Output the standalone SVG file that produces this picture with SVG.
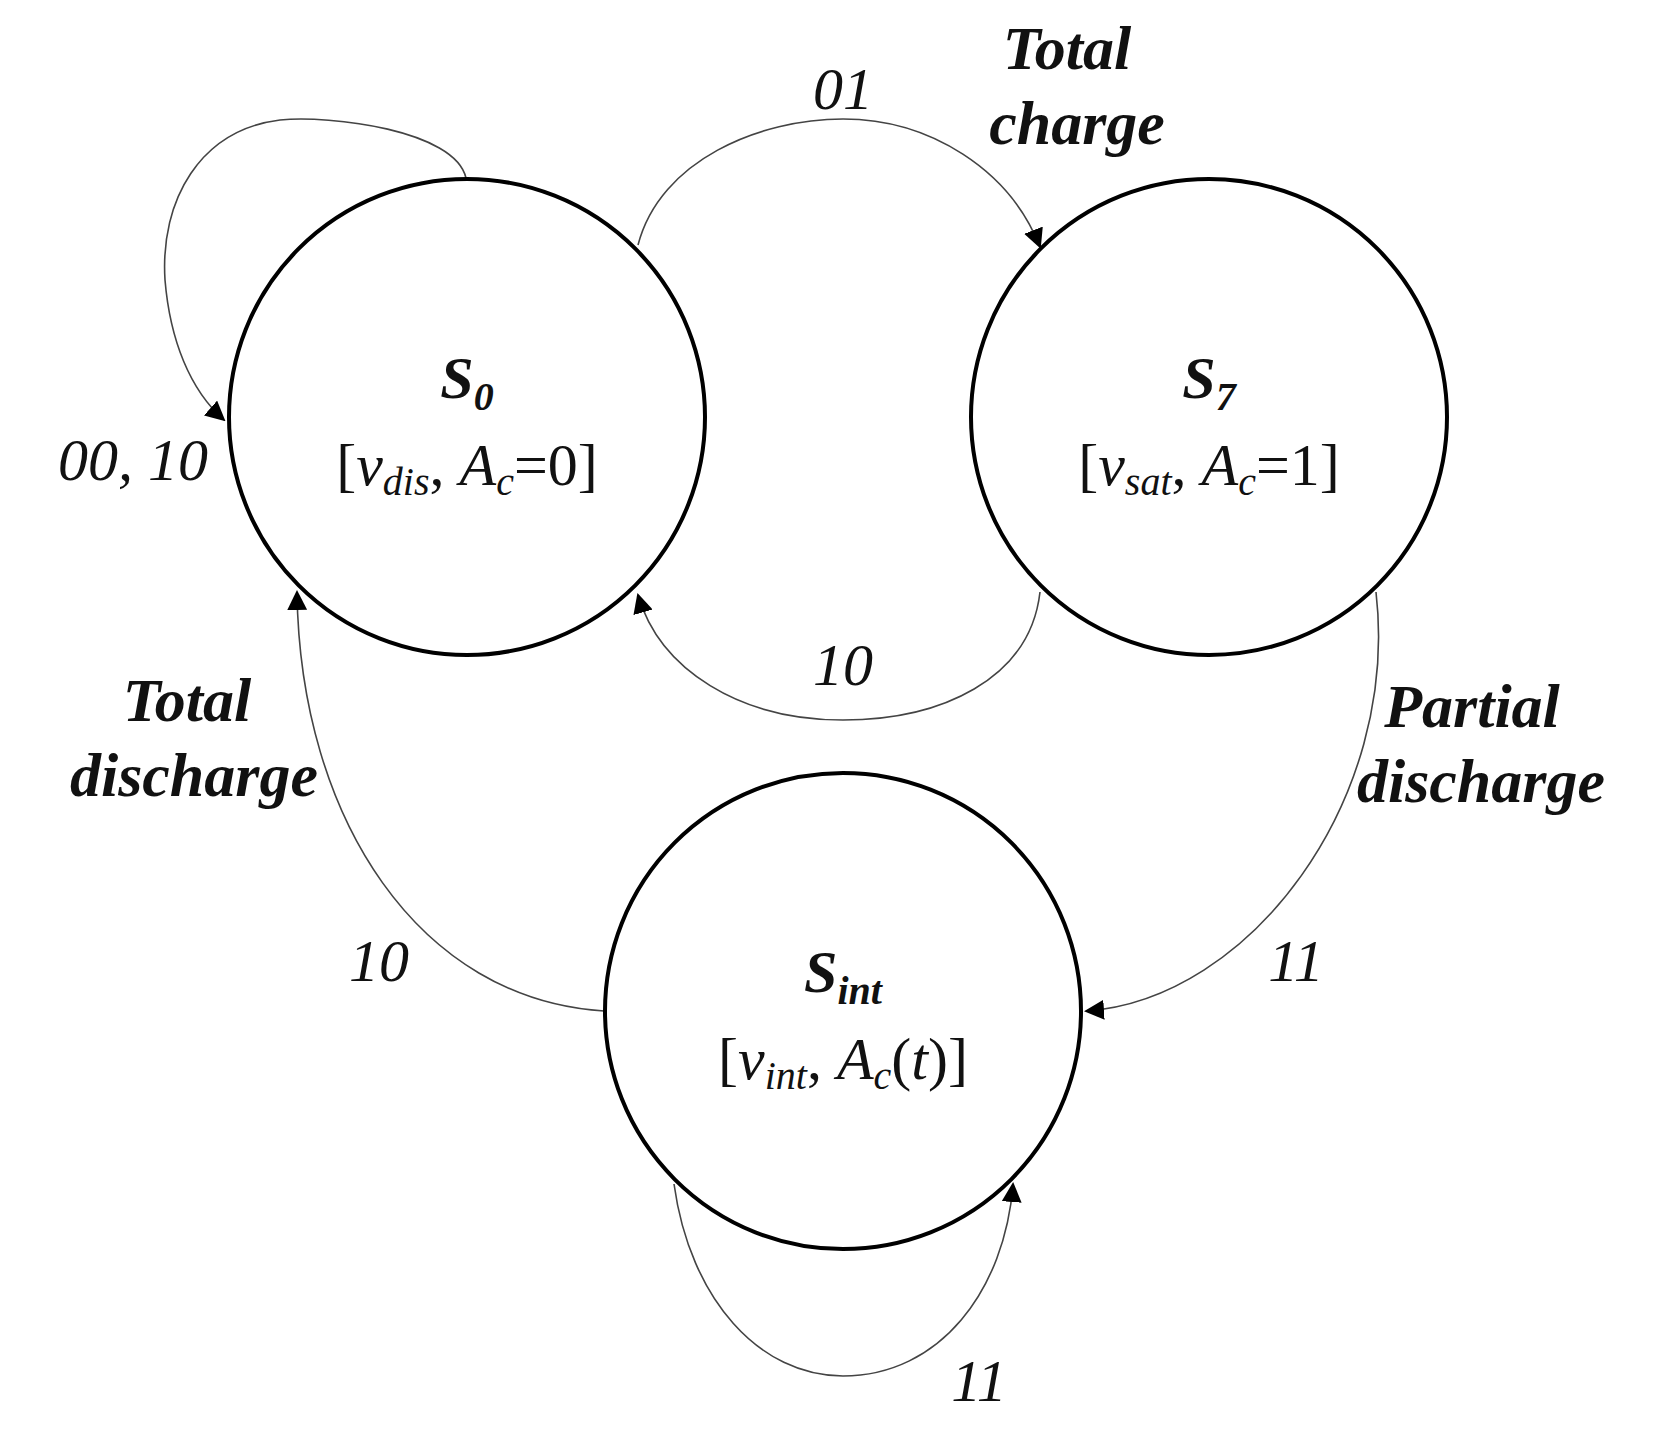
<svg xmlns="http://www.w3.org/2000/svg" width="1664" height="1443" viewBox="0 0 1664 1443">
<style>
text{font-family:"Liberation Serif","DejaVu Serif",serif;fill:#111}
.st{fill:#fff;stroke:#000;stroke-width:4}
.c{fill:none;stroke:#444;stroke-width:1.6}
.n{font-size:60px;font-weight:bold;font-style:italic;text-anchor:middle}
.v{font-size:60px;text-anchor:middle}
.l{font-size:60px;font-style:italic;text-anchor:middle}
.b{font-size:62px;font-style:italic;font-weight:bold;text-anchor:middle}
</style>
<defs><marker id="a" viewBox="0 0 10 10" refX="9" refY="5" markerWidth="20" markerHeight="20" markerUnits="userSpaceOnUse" orient="auto"><path d="M0,0L10,5L0,10z" fill="#000"/></marker></defs>
<g id="connectors">
<path class="c" marker-end="url(#a)" d="M466,178 C455,130 330,115 280,120 C200,130 160,200 165,280 C170,340 190,390 224,420"/>
<path class="c" marker-end="url(#a)" d="M638,245 C660,160 760,119 843,119 C930,119 1010,170 1040,247"/>
<path class="c" marker-end="url(#a)" d="M1040,592 C1030,680 940,720 843,720 C740,720 660,670 638,595"/>
<path class="c" marker-end="url(#a)" d="M1376,592 C1400,800 1250,1000 1086,1011"/>
<path class="c" marker-end="url(#a)" d="M604,1011 C420,1000 300,820 297,592"/>
<path class="c" marker-end="url(#a)" d="M674,1184 C690,1300 760,1376 843,1376 C940,1376 1005,1290 1013,1184"/>
</g>
<g id="S0"><circle class="st" cx="467" cy="417" r="238"/>
<text class="n" x="467" y="398">S<tspan font-size="40" dy="12">0</tspan></text>
<text class="v" x="467" y="485">[<tspan font-style="italic">v</tspan><tspan font-style="italic" font-size="40" dy="10">dis</tspan><tspan dy="-10">, </tspan><tspan font-style="italic">A</tspan><tspan font-style="italic" font-size="40" dy="10">c</tspan><tspan dy="-10">=0]</tspan></text></g>
<g id="S7"><circle class="st" cx="1209" cy="417" r="238"/>
<text class="n" x="1209" y="398">S<tspan font-size="40" dy="12">7</tspan></text>
<text class="v" x="1209" y="485">[<tspan font-style="italic">v</tspan><tspan font-style="italic" font-size="40" dy="10">sat</tspan><tspan dy="-10">, </tspan><tspan font-style="italic">A</tspan><tspan font-style="italic" font-size="40" dy="10">c</tspan><tspan dy="-10">=1]</tspan></text></g>
<g id="Sint"><circle class="st" cx="843" cy="1011" r="238"/>
<text class="n" x="843" y="992">S<tspan font-size="40" dy="12">int</tspan></text>
<text class="v" x="843" y="1079">[<tspan font-style="italic">v</tspan><tspan font-style="italic" font-size="40" dy="10">int</tspan><tspan dy="-10">, </tspan><tspan font-style="italic">A</tspan><tspan font-style="italic" font-size="40" dy="10">c</tspan><tspan dy="-10">(</tspan><tspan font-style="italic">t</tspan>)]</text></g>
<g id="labels">
<text class="b" x="1067" y="69">Total</text>
<text class="b" x="1077" y="144">charge</text>
<text class="l" x="843" y="109">01</text>
<text class="l" x="133" y="480">00, 10</text>
<text class="l" x="843" y="685">10</text>
<text class="b" x="187" y="721">Total</text>
<text class="b" x="194" y="796">discharge</text>
<text class="b" x="1472" y="727">Partial</text>
<text class="b" x="1481" y="802">discharge</text>
<text class="l" x="379" y="981">10</text>
<text class="l" x="1296" y="981">11</text>
<text class="l" x="979" y="1401">11</text>
</g>
</svg>
